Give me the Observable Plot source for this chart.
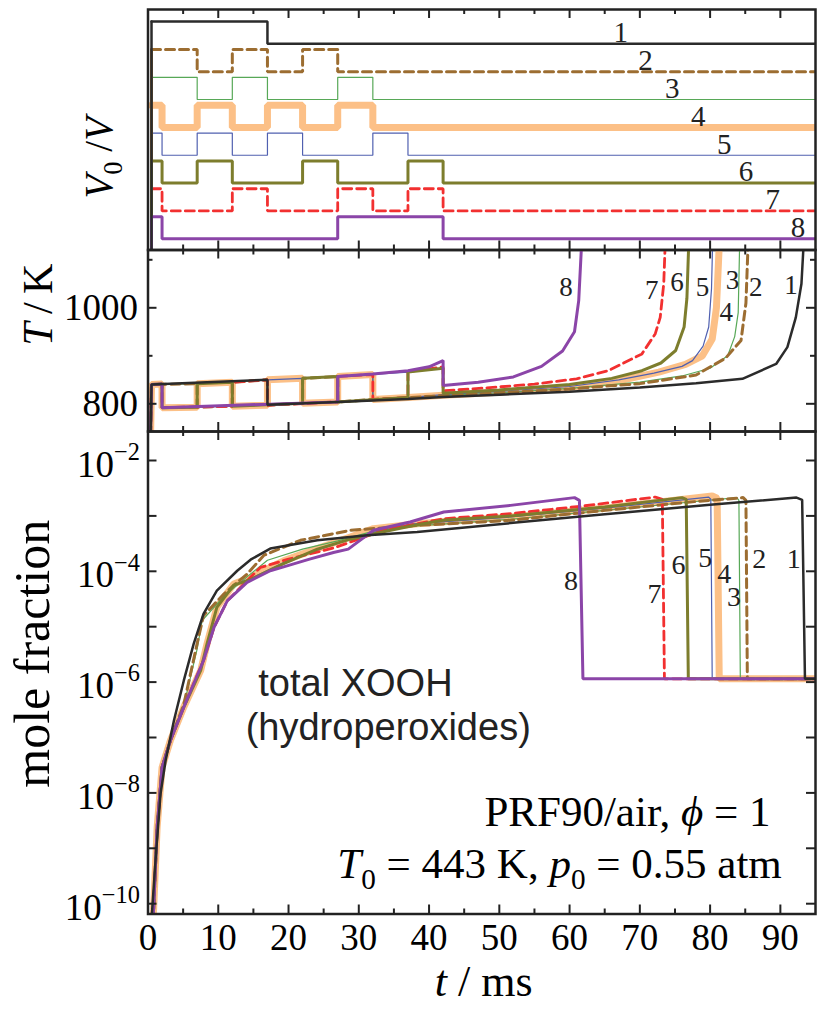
<!DOCTYPE html>
<html><head><meta charset="utf-8">
<script src="https://cdn.jsdelivr.net/npm/d3@7"></script>
<script src="https://cdn.jsdelivr.net/npm/@observablehq/plot@0.6"></script>
<style>
body{margin:0;background:#fff;}
#chart{position:relative;width:818px;height:1009px;overflow:hidden;}
#chart svg{position:absolute;left:0;top:0;}
</style></head><body><div id="chart"></div>
<script>
// ---------------- data ----------------
const curveIds = ["1","2","3","4","5","6","7","8"];

// V0/V state (1 = compressed, 0 = expanded) switching times in ms
const vol1 = [[0.5,1],[17,0],[95,0]];
const vol2 = [[0.5,1],[7,0],[12,1],[17,0],[22,1],[27,0],[95,0]];
const vol3 = [[0.5,1],[7,0],[12,1],[17,0],[27,1],[32,0],[95,0]];
const vol4 = [[0.5,1],[2,0],[7,1],[12,0],[17,1],[22,0],[27,1],[32,0],[95,0]];
const vol5 = [[0.5,1],[2,0],[7,1],[12,0],[17,1],[22,0],[32,1],[37,0],[95,0]];
const vol6 = [[0.5,1],[2,0],[7,1],[12,0],[22,1],[27,0],[37,1],[42,0],[95,0]];
const vol7 = [[0.5,1],[2,0],[12,1],[17,0],[27,1],[32,0],[37,1],[42,0],[95,0]];
const vol8 = [[0.5,1],[2,0],[27,1],[42,0],[95,0]];

// Temperature (K) vs t (ms)
const temp1 = [[0,443],[0.5,840],[17,850],[17,798],[27,804],[37,810],[42,814],[50,819],[60,825],[70,834],[78,843],[84.6,852],[89.4,883],[91,918],[92.2,980],[93,1050],[93.3,1130]];
const temp2 = [[0,443],[0.5,840],[7,842],[7,793],[12,795],[12,845],[17,850],[17,797],[22,801],[22,853],[27,857],[27,804],[32,809],[37,813],[42,817],[50,823],[60,831],[70,842],[78,860],[82.2,895],[84.4,932],[85.1,1010],[85.4,1130]];
const temp3 = [[0,443],[0.5,840],[7,842],[7,793],[12,795],[12,845],[17,850],[17,797],[27,804],[27,857],[32,861],[32,809],[37,813],[42,817],[50,823],[60,832],[70,845],[76,858],[80,874],[82.5,900],[83.5,940],[84,990],[84.2,1130]];
const temp4 = [[0,443],[0.5,840],[2,841],[2,792],[7,793],[7,842],[12,845],[12,795],[17,797],[17,850],[22,853],[22,801],[27,804],[27,857],[32,861],[32,809],[37,813],[42,818],[50,824],[60,834],[67,848],[72.7,866],[76.5,882],[78.9,900],[80.3,935],[80.9,1000],[81.3,1130]];
const temp5 = [[0,443],[0.5,840],[2,841],[2,792],[7,793],[7,842],[12,845],[12,795],[17,797],[17,850],[22,853],[22,801],[32,809],[32,861],[37,866],[37,813],[42,819],[50,826],[60,836],[67,850],[72,864],[76,878],[77.5,890],[79,920],[79.8,960],[80.2,1040],[80.35,1130]];
const temp6 = [[0,443],[0.5,840],[2,841],[2,792],[7,793],[7,842],[12,845],[12,795],[22,801],[22,853],[27,857],[27,804],[37,813],[37,866],[42,874],[42,822],[50,829],[60,840],[66,853],[70.3,869],[73,885],[75.1,911],[76.3,960],[76.7,1020],[76.95,1130]];
const temp7 = [[0,443],[0.5,840],[2,841],[2,792],[12,795],[12,845],[17,850],[17,797],[27,804],[27,857],[32,861],[32,809],[37,813],[37,867],[42,877],[42,827],[48,833],[55,841],[61,852],[65.5,869],[70.3,904],[72.2,946],[72.9,980],[73.4,1050],[73.6,1130]];
const temp8 = [[0,443],[0.5,840],[2,841],[2,792],[27,804],[27,857],[32,862],[37,869],[40,877],[42,890],[42,838],[47,845],[52,856],[56,878],[59,910],[60.7,950],[61.3,1015],[61.7,1130]];

// total XOOH mole fraction, log10 values vs t (ms)
const xooh1 = [[0.3,-10.6],[0.6,-10.1],[1.07,-9.22],[1.78,-8.02],[2.5,-7.42],[3.7,-6.69],[5.1,-5.97],[6.5,-5.31],[7.9,-4.77],[9.8,-4.35],[12.7,-3.99],[14.6,-3.79],[17.4,-3.59],[24.1,-3.44],[31.2,-3.35],[38.3,-3.29],[51.6,-3.13],[65,-2.97],[80,-2.8],[92.3,-2.67],[93.1,-2.71],[93.5,-5.94],[95,-5.94]];
const xooh2 = [[0.5,-10.6],[0.8,-10.1],[1.3,-8.62],[2.0,-7.54],[3.2,-7.05],[5.1,-6.4],[7.0,-5.3],[7.9,-4.8],[10.8,-4.41],[14.1,-4.05],[16.5,-3.71],[21.7,-3.44],[28.8,-3.26],[38.3,-3.17],[51.6,-3.08],[65,-2.9],[78,-2.74],[84.7,-2.67],[85.1,-2.72],[85.3,-5.94],[95,-5.94]];
const xooh3 = [[0.5,-10.6],[0.8,-10.1],[1.3,-8.62],[2.0,-7.54],[3.2,-7.05],[5.1,-6.42],[7.0,-5.4],[7.7,-4.89],[10.8,-4.45],[14.1,-4.1],[17,-3.8],[22,-3.6],[27,-3.45],[32,-3.28],[38.3,-3.18],[51.6,-3.06],[65,-2.9],[78,-2.74],[83.8,-2.67],[84.1,-2.72],[84.3,-5.94],[95,-5.94]];
const xooh4 = [[0.5,-10.6],[0.8,-10.1],[1.3,-8.62],[2.0,-7.54],[3.2,-7.05],[5.1,-6.45],[7.5,-5.79],[8.4,-5.31],[9.8,-4.65],[12.2,-4.23],[14.6,-4.11],[19.3,-3.81],[24.1,-3.59],[28.8,-3.38],[32.1,-3.23],[38.3,-3.14],[51.6,-3.02],[65,-2.86],[80.3,-2.64],[81,-2.68],[81.3,-5.94],[95,-5.94]];
const xooh5 = [[0.5,-10.6],[0.8,-10.1],[1.3,-8.62],[2.0,-7.54],[3.2,-7.05],[5.1,-6.45],[7.5,-5.79],[8.4,-5.31],[9.8,-4.65],[12.2,-4.25],[14.6,-4.13],[19.3,-3.84],[24.1,-3.62],[28.8,-3.42],[32.1,-3.3],[37.3,-3.15],[51.6,-3.02],[65,-2.86],[79.8,-2.66],[80.1,-2.7],[80.3,-5.94],[95,-5.94]];
const xooh6 = [[0.5,-10.6],[0.8,-10.1],[1.3,-8.62],[2.0,-7.54],[3.2,-7.05],[5.1,-6.45],[7.5,-5.79],[8.4,-5.31],[9.8,-4.65],[12.2,-4.25],[14.6,-4.15],[19.3,-3.86],[24.1,-3.6],[28.8,-3.42],[33,-3.3],[38.3,-3.16],[42,-3.08],[51.6,-3.0],[65,-2.84],[76,-2.67],[76.6,-2.7],[76.9,-5.94],[95,-5.94]];
const xooh7 = [[0.5,-10.6],[0.8,-10.1],[1.3,-8.62],[2.0,-7.54],[3.2,-7.05],[5.1,-6.45],[7.9,-5.61],[9.4,-5.01],[11.3,-4.53],[14.1,-4.17],[16,-3.93],[20,-3.78],[26.4,-3.58],[33.5,-3.26],[42.1,-3.05],[51.6,-2.96],[62,-2.82],[72.2,-2.66],[73.2,-2.7],[73.5,-5.94],[95,-5.94]];
const xooh8 = [[0.5,-10.6],[0.8,-10.1],[1.3,-8.62],[2.0,-7.54],[3.2,-7.05],[5.1,-6.45],[7.9,-5.61],[9.4,-5.01],[11.3,-4.53],[14.1,-4.2],[17.4,-3.99],[19.3,-3.92],[23,-3.78],[26.4,-3.66],[28.5,-3.6],[32.1,-3.26],[37.3,-3.11],[42.1,-2.93],[51.6,-2.81],[60.7,-2.67],[61.4,-2.72],[61.9,-5.94],[95,-5.94]];

// curve-label anchors (data units)
const volLabelT  = [67.3,70.8,74.6,78.3,82,85.1,88.9,92.5];
const tempLabelT = [91.5,86.5,83.2,82.3,78.9,75.3,71.7,59.5];
const tempLabelK = [1046,1043,1057,991,1043,1053,1036,1043];
const xoohLabelT = [91.9,87.0,83.4,82.0,79.3,75.5,72.1,60.2];
const xoohLabelE = [-3.77,-3.77,-4.47,-4.05,-3.76,-3.88,-4.41,-4.17];

// ticks
const xMajor = [0,10,20,30,40,50,60,70,80,90];
const xMinor = [5,15,25,35,45,55,65,75,85];
const tempMajor = [800,1000];
const tempMinor = [900,1100];
const decades = [-10,-9,-8,-7,-6,-5,-4,-3,-2];
const decadeLabels = [-10,-8,-6,-4,-2];

// ---------------- styles ----------------
const colors = ["#2b2b2b","#9c6d31","#57a857","#fcc087","#5060b0","#7d7d2d","#f23030","#8b45a8"];
const widths = [2.5,3,1.2,7,1.2,3,2.8,3];
const dashes = [null,"9,5",null,null,null,null,"9,5",null];
const drawOrder = [3,2,4,1,6,5,7,0];
const SERIF = "'Liberation Serif','Times New Roman',serif";
const SANS = "'Liberation Sans',Arial,sans-serif";
const INK = "#222";

const W = 818, H = 1009, ML = 147.5, MR = 3, FW = W - ML - MR;
const VSTEP = 1.255; // vertical stacking of V0/V traces

const volSets = [vol1,vol2,vol3,vol4,vol5,vol6,vol7,vol8];
const tempSets = [temp1,temp2,temp3,temp4,temp5,temp6,temp7,temp8];
const xoohSets = [xooh1,xooh2,xooh3,xooh4,xooh5,xooh6,xooh7,xooh8];

function tickMarks(fh, yMajor, yMinor) {
  const m = [];
  for (const [arr, len] of [[xMajor, 9], [xMinor, 5]]) {
    m.push(Plot.tickX(arr, {x: d => d, insetBottom: fh - len, stroke: INK, strokeWidth: 2}));
    m.push(Plot.tickX(arr, {x: d => d, insetTop: fh - len, stroke: INK, strokeWidth: 2}));
  }
  for (const [arr, len] of [[yMajor, 9], [yMinor, 5]]) {
    if (!arr) continue;
    m.push(Plot.tickY(arr, {y: d => d, insetRight: FW - len, stroke: INK, strokeWidth: 2}));
    m.push(Plot.tickY(arr, {y: d => d, insetLeft: FW - len, stroke: INK, strokeWidth: 2}));
  }
  return m;
}

function lines(sets, mapRow, extra = {}) {
  return drawOrder.map(i => Plot.line(sets[i].map((p) => mapRow(p, i)), {
    x: "t", y: "v", stroke: colors[i], strokeWidth: widths[i],
    strokeDasharray: dashes[i] ?? undefined, clip: true, strokeLinejoin: "miter", ...extra
  }));
}

function panel(top, bottom, y, marks) {
  return Plot.plot({
    width: W, height: H, marginLeft: ML, marginRight: MR, marginTop: top, marginBottom: H - bottom,
    x: {domain: [0, 95], axis: null},
    y: {...y, axis: null},
    style: {background: "transparent", fontFamily: SERIF, overflow: "visible"},
    marks
  });
}

// ---------- panel 1: V0/V ----------
const p1 = panel(9, 249.5, {domain: [-9.288, 1.545]}, [
  ...lines(volSets, (p, i) => ({t: p[0], v: p[1] - i * VSTEP}), {curve: "step-after"}),
  // initial rise from V0/V = 1 (below the panel)
  ...drawOrder.map(i => Plot.line([{t: 0, v: -20}, {t: volSets[i][0][0], v: -20}, {t: volSets[i][0][0], v: 1 - i * VSTEP}],
      {x: "t", y: "v", stroke: colors[i], strokeWidth: Math.min(widths[i], 3), clip: true})),
  Plot.text(curveIds, {x: (d, i) => volLabelT[i], y: (d, i) => -i * VSTEP, text: d => d, dy: -11,
    lineAnchor: "middle", fontSize: 29, fill: "#222"}),
  ...tickMarks(240.5, null, null),
  Plot.frame({stroke: INK, strokeWidth: 2.5}),
  Plot.text(["{i:V}{sub:0} /{i:V}"], {frameAnchor: "left", rotate: -90, textAnchor: "middle",
    lineAnchor: "bottom", dx: -36, dy: 28, fontSize: 39})
]);

// ---------- panel 2: T ----------
const p2 = panel(249.5, 431, {domain: [742.3, 1120.4]}, [
  ...lines(tempSets, (p) => ({t: p[0], v: p[1]})),
  Plot.text(curveIds, {x: (d, i) => tempLabelT[i], y: (d, i) => tempLabelK[i], text: d => d,
    lineAnchor: "middle", fontSize: 27, fill: "#222"}),
  ...tickMarks(181.5, tempMajor, tempMinor),
  Plot.frame({stroke: INK, strokeWidth: 2.5}),
  Plot.text(tempMajor, {y: d => d, frameAnchor: "left", text: d => String(d), textAnchor: "end",
    lineAnchor: "middle", dx: -10, fontSize: 37}),
  Plot.text(["{i:T}\u2009/\u2009K"], {frameAnchor: "left", rotate: -90, textAnchor: "middle",
    lineAnchor: "bottom", dx: -96, dy: -36, fontSize: 42})
]);

// ---------- panel 3: XOOH ----------
const p3 = panel(431, 913.5, {type: "log", domain: [10 ** -10.186, 10 ** -1.4765]}, [
  ...lines(xoohSets, (p) => ({t: p[0], v: 10 ** p[1]})),
  Plot.text(curveIds, {x: (d, i) => xoohLabelT[i], y: (d, i) => 10 ** xoohLabelE[i], text: d => d,
    lineAnchor: "middle", fontSize: 28, fill: "#222"}),
  ...tickMarks(482.5, decades.map(d => 10 ** d), null),
  Plot.frame({stroke: INK, strokeWidth: 2.5}),
  Plot.text(decadeLabels, {y: d => 10 ** d, frameAnchor: "left", text: d => `10{sup:\u2212${-d}}`,
    textAnchor: "end", lineAnchor: "bottom", dx: -8, dy: 16, fontSize: 37}),
  Plot.text(xMajor, {x: d => d, frameAnchor: "bottom", text: d => String(d), lineAnchor: "bottom",
    dy: 36, fontSize: 37}),
  Plot.text(["{i:t} / ms"], {frameAnchor: "bottom", lineAnchor: "bottom", dx: 2, dy: 82, fontSize: 44}),
  Plot.text(["mole fraction"], {frameAnchor: "left", rotate: -90, textAnchor: "middle", lineAnchor: "bottom",
    dx: -99.5, dy: -19, fontSize: 50}),
  Plot.text(["total XOOH"], {x: 15.7, y: 10 ** -6.242, textAnchor: "start", lineAnchor: "bottom",
    fontFamily: SANS, fontSize: 38, fill: "#222"}),
  Plot.text(["(hydroperoxides)"], {x: 13.9, y: 10 ** -7.054, textAnchor: "start", lineAnchor: "bottom",
    fontFamily: SANS, fontSize: 38, fill: "#222"}),
  Plot.text(["PRF90/air, {i:\u03D5} = 1"], {x: 88.6, y: 10 ** -8.606, textAnchor: "end",
    lineAnchor: "bottom", fontSize: 43}),
  Plot.text(["{i:T}{sub:0} = 443 K, {i:p}{sub:0} = 0.55 atm"], {x: 90.2, y: 10 ** -9.545,
    textAnchor: "end", lineAnchor: "bottom", fontSize: 43})
]);

const chart = document.getElementById("chart");
for (const p of [p1, p2, p3]) chart.appendChild(p);

// rich text: italics, subscripts, superscripts
function richify(svg) {
  svg.querySelectorAll("text").forEach(el => {
    const s = el.textContent;
    if (!s.includes("{")) return;
    const fs = parseFloat(getComputedStyle(el).fontSize) || 36;
    while (el.firstChild) el.removeChild(el.firstChild);
    const re = /\{(i|sub|sup):([^}]*)\}/g;
    let last = 0, m, shift = 0;
    const add = (txt, o = {}) => {
      const t = document.createElementNS("http://www.w3.org/2000/svg", "tspan");
      t.textContent = txt;
      const target = o.shift || 0;
      if (target !== shift) { t.setAttribute("dy", target - shift); shift = target; }
      if (o.italic) t.setAttribute("font-style", "italic");
      if (o.size) t.setAttribute("font-size", o.size);
      el.appendChild(t);
    };
    while ((m = re.exec(s))) {
      if (m.index > last) add(s.slice(last, m.index));
      if (m[1] === "i") add(m[2], {italic: true});
      else if (m[1] === "sub") add(m[2], {shift: 0.25 * fs, size: 0.68 * fs});
      else add(m[2], {shift: -0.45 * fs, size: 0.66 * fs});
      last = re.lastIndex;
    }
    if (last < s.length) add(s.slice(last));
  });
}
[p1, p2, p3].forEach(richify);
</script></body></html>
